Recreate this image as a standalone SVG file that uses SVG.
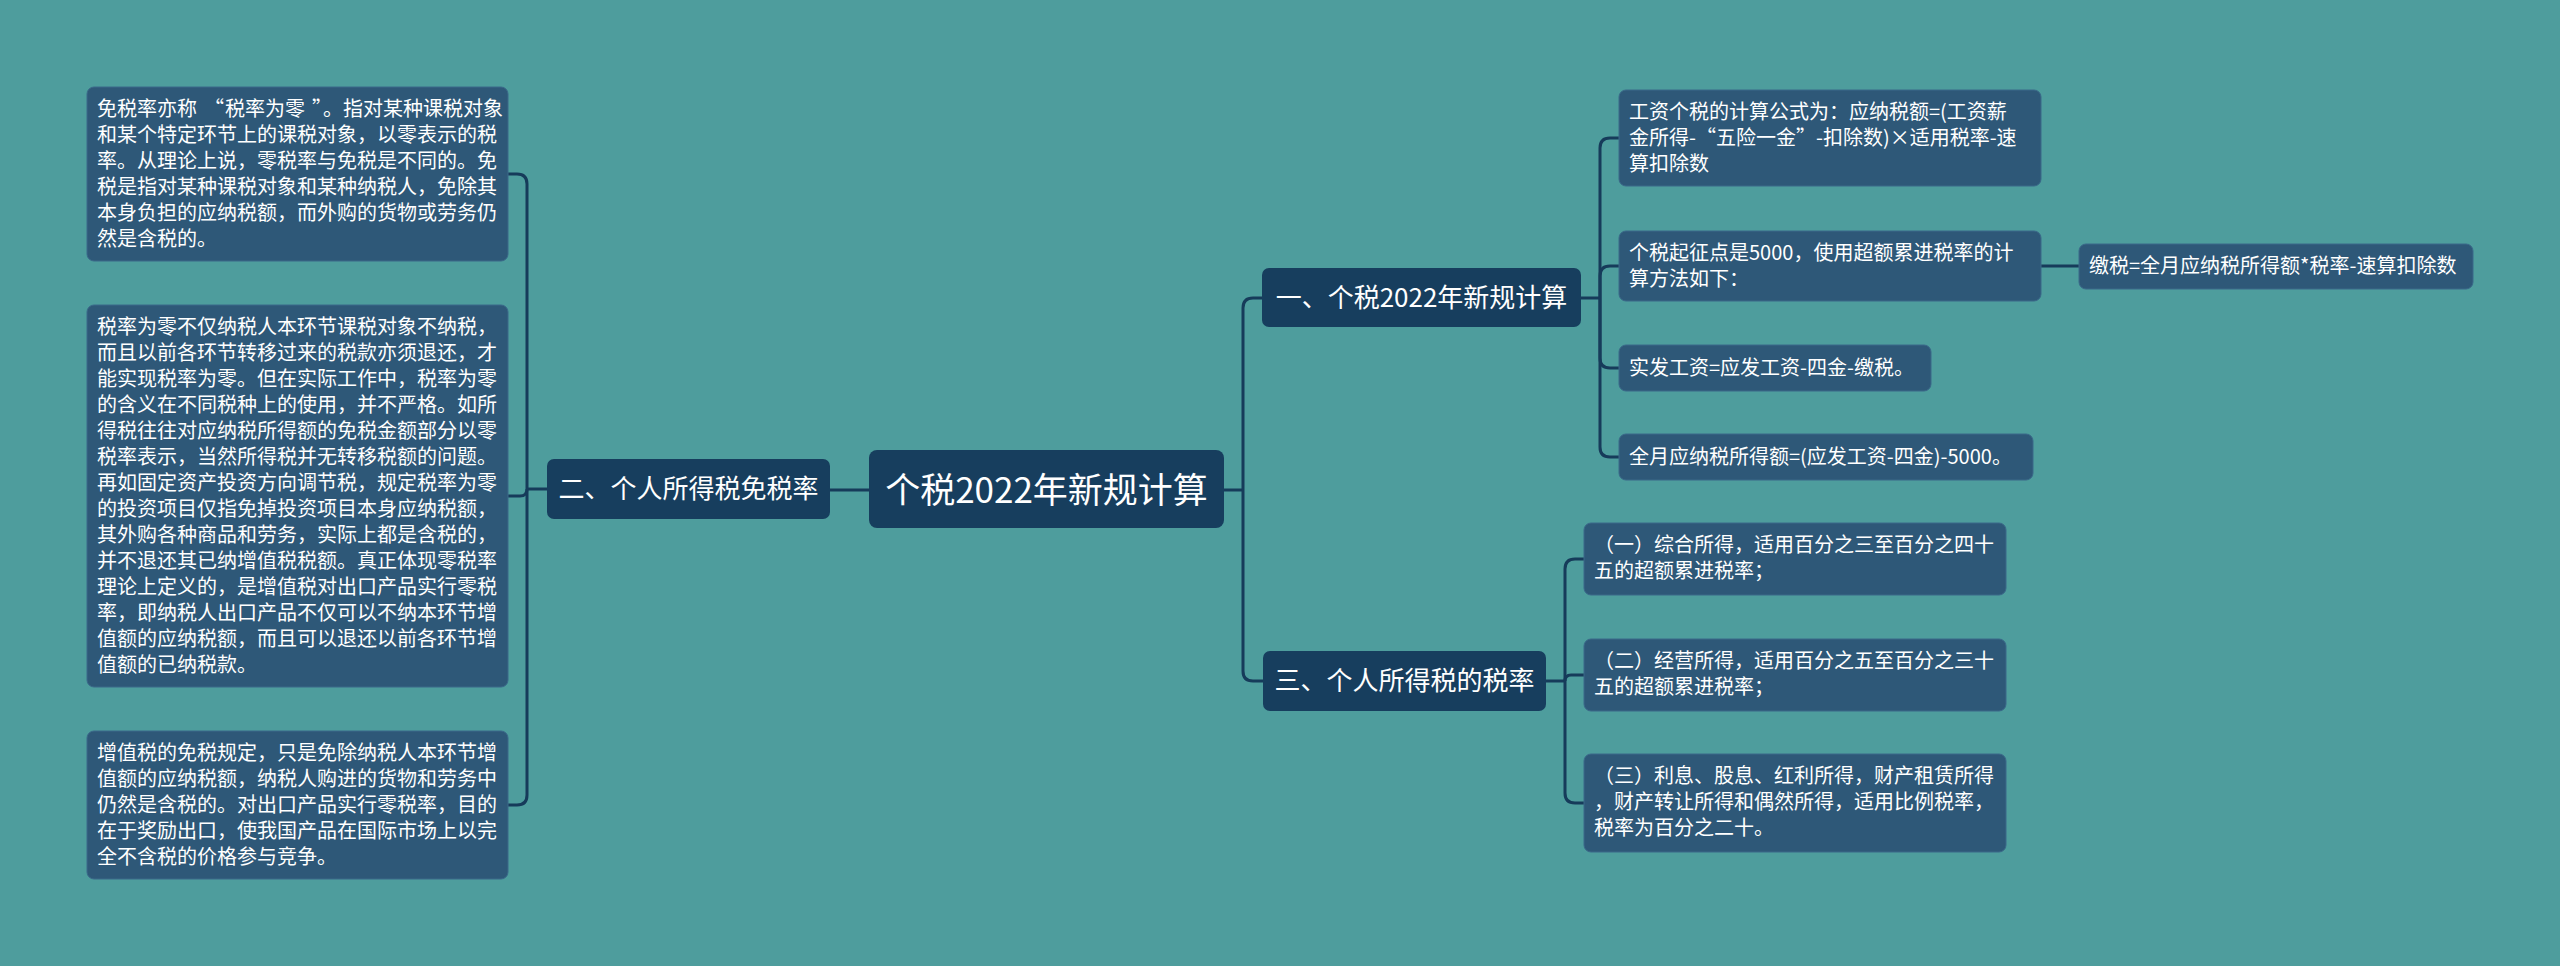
<svg xmlns="http://www.w3.org/2000/svg" width="2560" height="966" viewBox="0 0 2560 966">
<style>
.bg{fill:#4e9d9d}
.leaf{fill:#2e5878;stroke:#3a6889;stroke-width:1}
.main{fill:#173e5e}
.t{font-family:"Noto Sans CJK SC","Microsoft YaHei",sans-serif;fill:#ffffff}
.lt{font-size:20px}
.bt{font-size:26px;text-anchor:middle}
.rt{font-size:35px;text-anchor:middle}
.conn path{fill:none;stroke:#163b5a;stroke-width:3}
</style>
<rect class="bg" x="0" y="0" width="2560" height="966"/>
<g id="connectors" class="conn">
<path d="M1224,490 H1243"/>
<path d="M1243,490 V308 Q1243,298 1253,298 H1262"/>
<path d="M1243,490 V671 Q1243,681 1253,681 H1263"/>
<path d="M1581,298 H1600"/>
<path d="M1600,298 V148 Q1600,138 1610,138 H1619"/>
<path d="M1600,298 V276 Q1600,266 1610,266 H1619"/>
<path d="M1600,298 V358 Q1600,368 1610,368 H1619"/>
<path d="M1600,298 V447 Q1600,457 1610,457 H1619"/>
<path d="M2041,266 H2079"/>
<path d="M1546,681 H1565"/>
<path d="M1565,681 V569 Q1565,559 1575,559 H1584"/>
<path d="M1565,681 Q1565,675 1571,675 H1584"/>
<path d="M1565,681 V793 Q1565,803 1575,803 H1584"/>
<path d="M869,490 H830"/>
<path d="M547,489 H527"/>
<path d="M527,489 V184 Q527,174 517,174 H508"/>
<path d="M527,489 Q527,496 520,496 H508"/>
<path d="M527,489 V795 Q527,805 517,805 H508"/>
</g>
<g id="root">
<rect class="main" x="869" y="450" width="355" height="78" rx="8"/>
<text class="t rt" x="1046.5" y="503">个税2022年新规计算</text>
</g>
<g id="branch1">
<rect class="main" x="1262" y="268" width="319" height="59" rx="7"/>
<text class="t bt" x="1421.5" y="307">一、个税2022年新规计算</text>
</g>
<g id="branch2">
<rect class="main" x="547" y="459" width="283" height="60" rx="7"/>
<text class="t bt" x="688.5" y="498">二、个人所得税免税率</text>
</g>
<g id="branch3">
<rect class="main" x="1263" y="651" width="283" height="60" rx="7"/>
<text class="t bt" x="1404.5" y="690">三、个人所得税的税率</text>
</g>
<g id="leaf-l1">
<rect class="leaf" x="87" y="87" width="421" height="174" rx="7"/>
<text class="t lt" x="97" y="116">免税率亦称<tspan dx="7">“</tspan><tspan dx="1">税率为零</tspan><tspan dx="7">”</tspan><tspan dx="1">。指对某种课税对象</tspan></text>
<text class="t lt" x="97" y="142">和某个特定环节上的课税对象，以零表示的税</text>
<text class="t lt" x="97" y="168">率。从理论上说，零税率与免税是不同的。免</text>
<text class="t lt" x="97" y="194">税是指对某种课税对象和某种纳税人，免除其</text>
<text class="t lt" x="97" y="220">本身负担的应纳税额，而外购的货物或劳务仍</text>
<text class="t lt" x="97" y="246">然是含税的。</text>
</g>
<g id="leaf-l2">
<rect class="leaf" x="87" y="305" width="421" height="382" rx="7"/>
<text class="t lt" x="97" y="334">税率为零不仅纳税人本环节课税对象不纳税，</text>
<text class="t lt" x="97" y="360">而且以前各环节转移过来的税款亦须退还，才</text>
<text class="t lt" x="97" y="386">能实现税率为零。但在实际工作中，税率为零</text>
<text class="t lt" x="97" y="412">的含义在不同税种上的使用，并不严格。如所</text>
<text class="t lt" x="97" y="438">得税往往对应纳税所得额的免税金额部分以零</text>
<text class="t lt" x="97" y="464">税率表示，当然所得税并无转移税额的问题。</text>
<text class="t lt" x="97" y="490">再如固定资产投资方向调节税，规定税率为零</text>
<text class="t lt" x="97" y="516">的投资项目仅指免掉投资项目本身应纳税额，</text>
<text class="t lt" x="97" y="542">其外购各种商品和劳务，实际上都是含税的，</text>
<text class="t lt" x="97" y="568">并不退还其已纳增值税税额。真正体现零税率</text>
<text class="t lt" x="97" y="594">理论上定义的，是增值税对出口产品实行零税</text>
<text class="t lt" x="97" y="620">率，即纳税人出口产品不仅可以不纳本环节增</text>
<text class="t lt" x="97" y="646">值额的应纳税额，而且可以退还以前各环节增</text>
<text class="t lt" x="97" y="672">值额的已纳税款。</text>
</g>
<g id="leaf-l3">
<rect class="leaf" x="87" y="731" width="421" height="148" rx="7"/>
<text class="t lt" x="97" y="760">增值税的免税规定，只是免除纳税人本环节增</text>
<text class="t lt" x="97" y="786">值额的应纳税额，纳税人购进的货物和劳务中</text>
<text class="t lt" x="97" y="812">仍然是含税的。对出口产品实行零税率，目的</text>
<text class="t lt" x="97" y="838">在于奖励出口，使我国产品在国际市场上以完</text>
<text class="t lt" x="97" y="864">全不含税的价格参与竞争。</text>
</g>
<g id="leaf-r1">
<rect class="leaf" x="1619" y="90" width="422" height="96" rx="7"/>
<text class="t lt" x="1629" y="119">工资个税的计算公式为：应纳税额=(工资薪</text>
<text class="t lt" x="1629" y="145">金所得-“五险一金”-扣除数)×适用税率-速</text>
<text class="t lt" x="1629" y="171">算扣除数</text>
</g>
<g id="leaf-r2">
<rect class="leaf" x="1619" y="231" width="422" height="70" rx="7"/>
<text class="t lt" x="1629" y="260">个税起征点是5000，使用超额累进税率的计</text>
<text class="t lt" x="1629" y="286">算方法如下：</text>
</g>
<g id="leaf-r2a">
<rect class="leaf" x="2079" y="244" width="394" height="45" rx="7"/>
<text class="t lt" x="2089" y="273">缴税=全月应纳税所得额*税率-速算扣除数</text>
</g>
<g id="leaf-r3">
<rect class="leaf" x="1619" y="345" width="312" height="46" rx="7"/>
<text class="t lt" x="1629" y="375">实发工资=应发工资-四金-缴税。</text>
</g>
<g id="leaf-r4">
<rect class="leaf" x="1619" y="434" width="414" height="46" rx="7"/>
<text class="t lt" x="1629" y="464">全月应纳税所得额=(应发工资-四金)-5000。</text>
</g>
<g id="leaf-m1">
<rect class="leaf" x="1584" y="523" width="422" height="72" rx="7"/>
<text class="t lt" x="1594" y="552">（一）综合所得，适用百分之三至百分之四十</text>
<text class="t lt" x="1594" y="578">五的超额累进税率；</text>
</g>
<g id="leaf-m2">
<rect class="leaf" x="1584" y="639" width="422" height="72" rx="7"/>
<text class="t lt" x="1594" y="668">（二）经营所得，适用百分之五至百分之三十</text>
<text class="t lt" x="1594" y="694">五的超额累进税率；</text>
</g>
<g id="leaf-m3">
<rect class="leaf" x="1584" y="754" width="422" height="98" rx="7"/>
<text class="t lt" x="1594" y="783">（三）利息、股息、红利所得，财产租赁所得</text>
<text class="t lt" x="1594" y="809">，财产转让所得和偶然所得，适用比例税率，</text>
<text class="t lt" x="1594" y="835">税率为百分之二十。</text>
</g>
</svg>
